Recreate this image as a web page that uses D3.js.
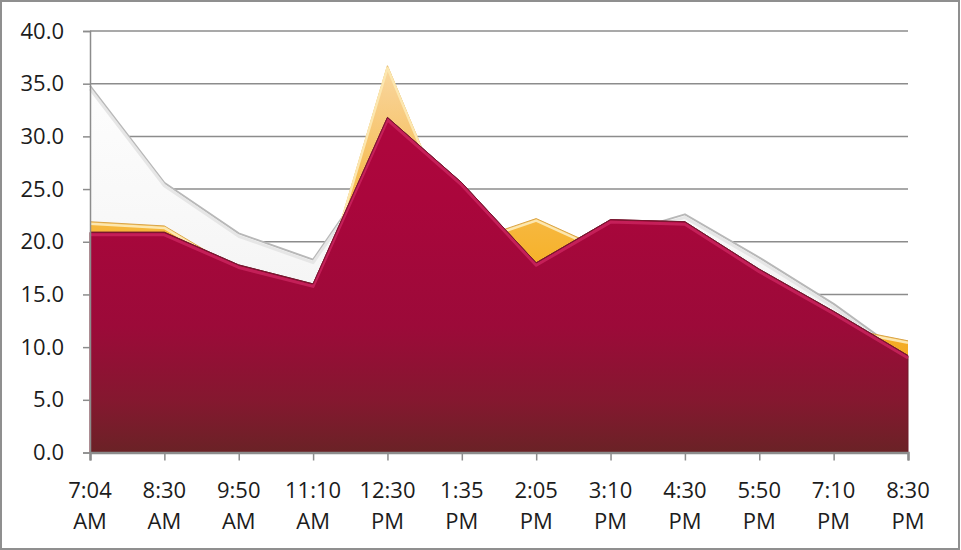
<!DOCTYPE html>
<html>
<head>
<meta charset="utf-8">
<script src="https://cdn.jsdelivr.net/npm/d3@7"></script>
<style>
  html, body { margin: 0; padding: 0; background: #fff; }
  svg { display: block; }
  text { font-family: "Open Sans", "DejaVu Sans", sans-serif; fill: #1c1c1c; }
</style>
</head>
<body>
<svg id="chart" width="961" height="550"></svg>
<script>
const categories = ["7:04 AM","8:30 AM","9:50 AM","11:10 AM","12:30 PM","1:35 PM","2:05 PM","3:10 PM","4:30 PM","5:50 PM","7:10 PM","8:30 PM"];
const greyValues    = [34.8, 25.6, 20.8, 18.3, 28.5, 23.0, 17.0, 20.5, 22.6, 18.5, 14.1, 9.0];
const yellowValues  = [21.9, 21.5, 17.3, 13.1, 36.7, 19.8, 22.2, 19.0, 20.0, 15.5, 12.0, 10.6];
const crimsonValues = [20.9, 20.9, 17.8, 16.0, 31.8, 25.6, 18.0, 22.1, 21.9, 17.4, 13.4, 9.2];
const yTicks = [0, 5, 10, 15, 20, 25, 30, 35, 40];

(function () {
const svg = d3.select("#chart");
const W = 961, H = 550;
const pLeft = 90, pRight = 908, pTop = 31, pBottom = 452.5;

const x = d3.scalePoint().domain(categories).range([pLeft, pRight]);
const y = d3.scaleLinear().domain([0, 40]).range([pBottom, pTop]);

// border
svg.append("rect").attr("x", 1).attr("y", 1).attr("width", W - 3).attr("height", H - 2)
  .attr("fill", "#fff").attr("stroke", "#8f8f8f").attr("stroke-width", 2);

const defs = svg.append("defs");
function grad(id, stops) {
  const g = defs.append("linearGradient").attr("id", id)
    .attr("gradientUnits", "userSpaceOnUse")
    .attr("x1", 0).attr("x2", 0).attr("y1", y(40)).attr("y2", y(0));
  stops.forEach(s => g.append("stop").attr("offset", s[0]).attr("stop-color", s[1]));
}
grad("gGrey", [[0, "#ffffff"], [0.5, "#f7f7f7"], [1, "#ececec"]]);
grad("gYellow", [[0, "#fbe3b3"], [0.15, "#f8d08e"], [0.35, "#f6bd55"], [0.55, "#f6b22a"], [1, "#f0a520"]]);
grad("gCrimson", [[0, "#b4063f"], [0.4, "#aa063c"], [0.7, "#9c0a39"], [0.88, "#84182f"], [1, "#6a2226"]]);

// gridlines
svg.append("g").selectAll("line").data(yTicks.filter(d => d > 0)).join("line")
  .attr("x1", pLeft).attr("x2", pRight)
  .attr("y1", d => y(d)).attr("y2", d => y(d))
  .attr("stroke", "#8c8c8c").attr("stroke-width", 1.5);

const area = d3.area().x((d, i) => x(categories[i])).y0(y(0)).y1(d => y(d));
const line = d3.line().x((d, i) => x(categories[i])).y(d => y(d));

// grey series
svg.append("path").datum(greyValues).attr("d", area).attr("fill", "url(#gGrey)");
svg.append("path").datum(greyValues).attr("d", line).attr("fill", "none")
  .attr("stroke", "#b8b8b8").attr("stroke-width", 2).attr("stroke-linejoin", "round");
svg.append("path").datum(greyValues).attr("d", line).attr("fill", "none")
  .attr("transform", "translate(0,3)")
  .attr("stroke", "#e6e6e6").attr("stroke-width", 3).attr("stroke-linejoin", "round");

// yellow series
svg.append("path").datum(yellowValues).attr("d", area).attr("fill", "url(#gYellow)");
svg.append("path").datum(yellowValues).attr("d", line).attr("fill", "none")
  .attr("stroke", "#d9a54a").attr("stroke-width", 1).attr("stroke-linejoin", "round");
svg.append("path").datum(yellowValues).attr("d", line).attr("fill", "none")
  .attr("transform", "translate(0,2)")
  .attr("stroke", "#fce7b0").attr("stroke-width", 2.5).attr("stroke-linejoin", "round");

// crimson series
svg.append("path").datum(crimsonValues).attr("d", area).attr("fill", "url(#gCrimson)")
  .attr("stroke", "#6e1a2a").attr("stroke-width", 1);
svg.append("path").datum(crimsonValues).attr("d", line).attr("fill", "none")
  .attr("transform", "translate(0,2.5)")
  .attr("stroke", "#cc2560").attr("stroke-width", 3).attr("stroke-linejoin", "round").attr("opacity", 0.8);
svg.append("path").datum(crimsonValues).attr("d", line).attr("fill", "none")
  .attr("stroke", "#7a1530").attr("stroke-width", 1).attr("stroke-linejoin", "round");

// left axis
const yAxis = svg.append("g").attr("transform", `translate(${pLeft},0)`)
  .call(d3.axisLeft(y).tickValues(yTicks).tickFormat(d3.format(".1f")).tickSize(7).tickPadding(19));
yAxis.select(".domain").attr("stroke", "#8c8c8c").attr("stroke-width", 1.5);
yAxis.selectAll(".tick line").attr("stroke", "#8c8c8c").attr("stroke-width", 1.5);
yAxis.selectAll(".tick text").attr("font-size", 22).attr("font-family", "Open Sans").attr("fill", "#1c1c1c");

// bottom axis
const xAxis = svg.append("g").attr("transform", `translate(0,${pBottom})`)
  .call(d3.axisBottom(x).tickSize(8).tickFormat(""));
xAxis.select(".domain").attr("stroke", "#8c8c8c").attr("stroke-width", 2.5);
xAxis.selectAll(".tick line").attr("stroke", "#8c8c8c").attr("stroke-width", 1.5);

const lbl = svg.append("g");
categories.forEach(c => {
  const parts = c.split(" ");
  const t = lbl.append("text").attr("text-anchor", "middle").attr("font-size", 22)
    .attr("x", x(c)).attr("y", 497);
  t.append("tspan").attr("x", x(c)).attr("y", 498).text(parts[0]);
  t.append("tspan").attr("x", x(c)).attr("y", 529).text(parts[1]);
});
})();
</script>
</body>
</html>
